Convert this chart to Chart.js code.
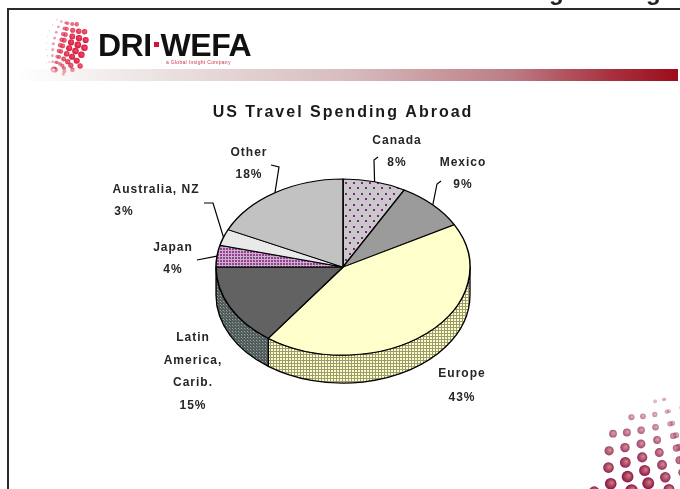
<!DOCTYPE html>
<html>
<head>
<meta charset="utf-8">
<title>US Travel Spending Abroad</title>
<script src="https://cdn.jsdelivr.net/npm/chart.js@4.4.0/dist/chart.umd.min.js"></script>
<style>
  html, body { margin: 0; padding: 0; background: #fff; }
  #slide { position: relative; width: 680px; height: 489px; overflow: hidden; background: #fff; }
  .frame-top { position: absolute; left: 7px; top: 8px; right: 0; height: 2px; background: #2a2a2a; }
  .frame-left { position: absolute; left: 7px; top: 8px; bottom: 0; width: 2px; background: #2a2a2a; }
  .bar {
    position: absolute; left: 18px; top: 69px; width: 660px; height: 12px;
    background: linear-gradient(to right, rgba(235,228,228,0) 0%, #ebe1e1 22%, #d7bcbe 50%, #bb7c84 75%, #a8303e 90%, #9c0c1c 100%);
  }
  .brand {
    position: absolute; left: 98px; top: 27px; line-height: 32px;
    font: 900 32px "Liberation Sans", Arial, sans-serif; color: #111; letter-spacing: -0.5px;
  }
  .brand .dot { display: inline-block; width: 5px; height: 5px; background: #d3143a; margin: 0 2px; vertical-align: 9px; }
  .tag { position: absolute; left: 166px; top: 59px; font: 5px "Liberation Sans", Arial, sans-serif; color: #c8374f; letter-spacing: 0.3px; }
  .cut { position: absolute; left: 0; top: 0; width: 680px; height: 8px; overflow: hidden; }
  .cut span { position: absolute; top: -22px; font: bold 24px "Liberation Sans", Arial, sans-serif; color: #222; }
  canvas { position: absolute; left: 0; top: 0; }
</style>
</head>
<body>
<div id="slide">
  <canvas id="deco" width="680" height="489"></canvas>
  <div class="cut"><span style="left:549px">g</span><span style="left:646px">g</span></div>
  <div class="frame-top"></div>
  <div class="frame-left"></div>
  <div class="bar"></div>
  <div class="brand">DRI<span class="dot"></span>WEFA</div>
  <div class="tag">a Global Insight Company</div>
  <canvas id="pie" width="680" height="489"></canvas>
</div>
<script>
// Share of US travel spending abroad by destination (%)
const regions = ['Canada', 'Mexico', 'Europe', 'Latin America, Carib.', 'Japan', 'Australia, NZ', 'Other'];
const shares = [8, 9, 43, 15, 4, 3, 18];
// how each region name is broken over lines next to the pie
const labelLines = [['Canada'], ['Mexico'], ['Europe'], ['Latin', 'America,', 'Carib.'], ['Japan'], ['Australia, NZ'], ['Other']];

// 3D look: vertical squash of the pie top and height of the side wall
const tilt = 0.693;
const depth = 28;

// text position for each label and the bend points of its leader line
const labelSpots = [
  { x: 397, y: 141, step: 22, leader: [[378, 157], [374, 160]] },
  { x: 463, y: 163, step: 22, leader: [[441, 181], [437, 184]] },
  { x: 462, y: 374, step: 24, leader: null },
  { x: 193, y: 338, step: 22.5, leader: null },
  { x: 173, y: 248, step: 22, leader: [[197, 260]] },
  { x: 156, y: 190, step: 22, pctX: 124, leader: [[204, 203], [213, 203]] },
  { x: 249, y: 153, step: 22, leader: [[271, 165], [279, 167]] }
];

function makePattern(w, h, base, cells, squash) {
  const c = document.createElement('canvas');
  c.width = w; c.height = h;
  const g = c.getContext('2d');
  g.fillStyle = base;
  g.fillRect(0, 0, w, h);
  cells.forEach(([x, y, cw, ch, col]) => { g.fillStyle = col; g.fillRect(x, y, cw, ch); });
  const p = g.createPattern(c, 'repeat');
  // the top face is drawn squashed, so undo that for its fill
  if (squash) p.setTransform(new DOMMatrix([1, 0, 0, 1 / tilt, 0, 0]));
  return p;
}

const canadaDots = makePattern(8, 11, '#c9c9c9', [[1, 1, 2, 2, '#8a1c8a'], [5, 6, 2, 2, '#8a1c8a']], true);
const japanGrid = makePattern(3, 3, '#9c3a9c', [[0, 0, 3, 1, '#c4b4c4'], [0, 0, 1, 3, '#c4b4c4']], true);
const europeSide = makePattern(3, 3, '#ffffbe', [[0, 0, 3, 1, '#9a9a78'], [0, 0, 1, 3, '#9a9a78']], false);
const latinSide = makePattern(3, 3, '#525a5a', [[1, 1, 1, 1, '#93abab'], [2, 2, 1, 1, '#6f8080']], false);

const topFills = [canadaDots, '#9b9b9b', '#ffffcc', '#626262', japanGrid, '#e9e9e9', '#c2c2c2'];
const sideFills = ['#a8a8a8', '#7c7c7c', europeSide, latinSide, '#7a3a7a', '#c4c4c4', '#9a9a9a'];

// side wall under the front half, then draw the slices squashed into an ellipse
const tiltPlugin = {
  id: 'tilt',
  beforeDatasetsDraw(chart) {
    const ctx = chart.ctx;
    const arcs = chart.getDatasetMeta(0).data;
    const x = arcs[0].x, y = arcs[0].y, r = arcs[0].outerRadius;
    ctx.save();
    ctx.lineWidth = 1.3;
    ctx.strokeStyle = '#000';
    arcs.forEach((arc, i) => {
      const a1 = Math.max(arc.startAngle, 0);
      const a2 = Math.min(arc.endAngle, Math.PI);
      if (a2 <= a1) return;
      ctx.beginPath();
      ctx.ellipse(x, y, r, r * tilt, 0, a1, a2);
      ctx.ellipse(x, y + depth, r, r * tilt, 0, a2, a1, true);
      ctx.closePath();
      ctx.fillStyle = sideFills[i];
      ctx.fill();
      ctx.stroke();
    });
    ctx.restore();
    ctx.save();
    ctx.translate(x, y);
    ctx.scale(1, tilt);
    ctx.translate(-x, -y);
  },
  afterDatasetsDraw(chart) {
    chart.ctx.restore();
  }
};

const labelPlugin = {
  id: 'sliceLabels',
  beforeDraw(chart) {
    chart.ctx.letterSpacing = '2px';
  },
  afterDraw(chart) {
    const ctx = chart.ctx;
    const arcs = chart.getDatasetMeta(0).data;
    ctx.save();
    ctx.letterSpacing = '1px';
    ctx.font = 'bold 12px "Liberation Sans", Arial, sans-serif';
    ctx.fillStyle = '#262626';
    ctx.textAlign = 'center';
    ctx.textBaseline = 'middle';
    ctx.strokeStyle = '#000';
    ctx.lineWidth = 1.2;
    arcs.forEach((arc, i) => {
      const spot = labelSpots[i];
      const lines = labelLines[i].concat(shares[i] + '%');
      lines.forEach((t, j) => {
        const tx = (j === lines.length - 1 && spot.pctX) ? spot.pctX : spot.x;
        ctx.fillText(t, tx, spot.y + j * spot.step);
      });
      if (spot.leader) {
        const mid = (arc.startAngle + arc.endAngle) / 2;
        const ex = arc.x + arc.outerRadius * Math.cos(mid);
        const ey = arc.y + arc.outerRadius * tilt * Math.sin(mid);
        ctx.beginPath();
        ctx.moveTo(spot.leader[0][0], spot.leader[0][1]);
        spot.leader.slice(1).forEach(p => ctx.lineTo(p[0], p[1]));
        ctx.lineTo(ex, ey);
        ctx.stroke();
      }
    });
    ctx.restore();
  }
};

new Chart(document.getElementById('pie'), {
  type: 'pie',
  data: {
    labels: regions,
    datasets: [{
      data: shares,
      backgroundColor: topFills,
      borderColor: '#000',
      borderWidth: 1.5,
      radius: 127
    }]
  },
  options: {
    responsive: false,
    animation: false,
    events: [],
    devicePixelRatio: 1,
    layout: { padding: { left: 6, bottom: 77 } },
    plugins: {
      legend: { display: false },
      tooltip: { enabled: false },
      title: {
        display: true,
        text: 'US Travel Spending Abroad',
        color: '#1a1a1a',
        font: { family: '"Liberation Sans", Arial, sans-serif', size: 16, weight: 'bold' },
        padding: { top: 103, bottom: 0 }
      }
    }
  },
  plugins: [tiltPlugin, labelPlugin]
});

// dotted globes of the company logo and the page corner; dots are laid out
// by angular distance from the view axis so they stay evenly spaced
function dotGlobe(g, o) {
  const ct = Math.cos(o.tiltX), st = Math.sin(o.tiltX);
  const cr = Math.cos(o.turn), sr = Math.sin(o.turn);
  for (let lat = -84; lat <= 84; lat += o.latStep) {
    for (let lon = 0; lon < 360; lon += o.lonStep) {
      const p = lat * Math.PI / 180, l = (lon + o.spin) * Math.PI / 180;
      const x = Math.cos(p) * Math.sin(l), y = -Math.sin(p), z = Math.cos(p) * Math.cos(l);
      const y2 = y * ct - z * st, z2 = y * st + z * ct;
      if (z2 <= 0) continue;
      const x3 = x * cr - y2 * sr, y3 = x * sr + y2 * cr;
      const s = x3 * o.light[0] + y3 * o.light[1] + z2 * o.light[2];
      const t = Math.min(1, (s + 0.45) / 1.45);
      if (t <= 0.12) continue;
      const len = Math.hypot(x3, y3) || 1;
      const d = Math.acos(Math.min(1, z2)) / (Math.PI / 2);
      const px = o.cx + o.R * d * x3 / len, py = o.cy + o.R * d * y3 / len, r = o.maxDot * t;
      const a = Math.min(1, 0.1 + t);
      const grad = g.createRadialGradient(px + r * 0.25, py - r * 0.2, 0, px, py, r);
      grad.addColorStop(0, 'rgba(' + o.hi + ',' + a + ')');
      grad.addColorStop(1, 'rgba(' + o.rgb + ',' + a + ')');
      g.fillStyle = grad;
      g.beginPath();
      g.arc(px, py, r, 0, Math.PI * 2);
      g.fill();
    }
  }
}

const deco = document.getElementById('deco').getContext('2d');
dotGlobe(deco, { cx: 60, cy: 46, R: 29, latStep: 18, lonStep: 22, spin: 8, tiltX: 0.25, turn: 0.25,
  light: [0.85, 0.1, 0.5], maxDot: 3.4, rgb: '214,24,60', hi: '238,80,104' });
dotGlobe(deco, { cx: 686, cy: 490, R: 94, latStep: 12, lonStep: 17, spin: 4, tiltX: 0.3, turn: -0.25,
  light: [-0.75, 0.3, 0.6], maxDot: 6.4, rgb: '132,18,78', hi: '214,128,118' });
</script>
</body>
</html>
